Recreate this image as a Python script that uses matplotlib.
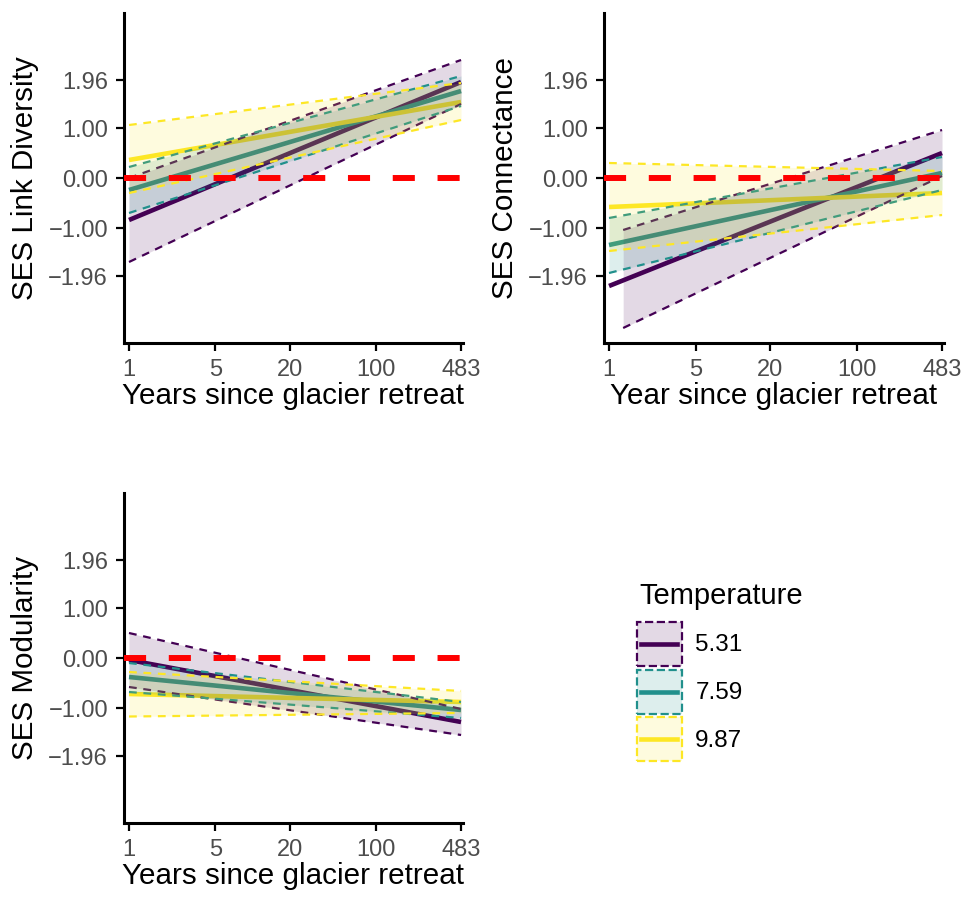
import matplotlib
matplotlib.use("Agg")
import matplotlib.pyplot as plt
from matplotlib.patches import Rectangle
from matplotlib.lines import Line2D
from matplotlib.colors import to_rgba

plt.rcParams['font.family'] = ['Liberation Sans', 'DejaVu Sans']

# data (fitted line + CI ends, at first/last year)
temps = ["5.31", "7.59", "9.87"]
colors = ["#440154", "#21908C", "#FDE725"]
years = [1, 483]
year_ticks = [1, 5, 20, 100, 483]
y_ticks = [-1.96, -1.00, 0.00, 1.00, 1.96]

link_fit = [[-0.84, 1.92], [-0.24, 1.74], [0.36, 1.52]]
link_lo = [[-1.68, 1.48], [-0.70, 1.44], [-0.30, 1.16]]
link_hi = [[0.00, 2.36], [0.22, 2.04], [1.06, 1.90]]
link_band_x = [[1, 483], [1, 483], [1, 483]]

conn_fit = [[-2.16, 0.50], [-1.34, 0.10], [-0.58, -0.30]]
conn_lo = [[-3.00, 0.04], [-1.90, -0.24], [-1.46, -0.74]]
conn_hi = [[-1.04, 0.96], [-0.80, 0.42], [0.30, 0.14]]
conn_band_x = [[1.3, 483], [1, 483], [1, 483]]

mod_fit = [[-0.04, -1.28], [-0.38, -1.04], [-0.72, -0.88]]
mod_lo = [[-0.58, -1.54], [-0.68, -1.20], [-1.17, -1.10]]
mod_hi = [[0.50, -1.02], [-0.10, -0.88], [-0.28, -0.66]]
mod_band_x = [[1, 483], [1, 483], [1, 483]]

W, H = 965, 897
fig = plt.figure(figsize=(W / 100, H / 100), dpi=100)


def fmt(v):
    s = "%.2f" % abs(v)
    return ("\u2212" + s) if v < 0 else s


def panel(rect, fit, lo, hi, band_x, ylab, xlab):
    ax = fig.add_axes(rect)
    ax.set_xscale('log')
    # lines first, ribbons drawn over them (as in the original)
    for i in range(3):
        ax.plot(years, fit[i], color=colors[i], lw=3.3, solid_capstyle='butt', zorder=2)
    for i in range(3):
        ax.fill_between(band_x[i], lo[i], hi[i], color=colors[i], alpha=0.15, lw=0, zorder=3)
        ax.plot(band_x[i], lo[i], color=colors[i], lw=1.6, dashes=(3.5, 3), zorder=3)
        ax.plot(band_x[i], hi[i], color=colors[i], lw=1.6, dashes=(3.5, 3), zorder=3)
    ax.axhline(0, color='#FF0000', lw=4.3, dashes=(3.7, 3.8), zorder=5)

    ax.set_xlim(0.911, 501)
    ax.set_ylim(-3.3, 3.3)
    ax.set_xticks(year_ticks)
    ax.set_xticklabels([str(v) for v in year_ticks])
    ax.xaxis.set_minor_locator(matplotlib.ticker.NullLocator())
    ax.set_yticks(y_ticks)
    ax.set_yticklabels([fmt(v) for v in y_ticks])
    for s in ['top', 'right']:
        ax.spines[s].set_visible(False)
    for s in ['left', 'bottom']:
        ax.spines[s].set_linewidth(2.2)
    ax.tick_params(length=5.5, width=1.6, labelsize=17, labelcolor='#4D4D4D', pad=6)
    ax.set_ylabel(ylab, fontsize=21.3, labelpad=7)
    ax.set_xlabel(xlab, fontsize=21.3, labelpad=1)
    return ax


panel([124 / W, 1 - 343 / H, 339 / W, 330 / H], link_fit, link_lo, link_hi, link_band_x,
      "SES Link Diversity", "Years since glacier retreat")
panel([604 / W, 1 - 343 / H, 340 / W, 330 / H], conn_fit, conn_lo, conn_hi, conn_band_x,
      "SES Connectance", "Year since glacier retreat")
panel([124 / W, 1 - 823 / H, 339 / W, 330 / H], mod_fit, mod_lo, mod_hi, mod_band_x,
      "SES Modularity", "Years since glacier retreat")


class BandKey:
    # legend key: shaded box with dashed border and the fit line across its middle
    def legend_artist(self, legend, orig_handle, fontsize, handlebox):
        c = orig_handle.get_color()
        x0, y0 = -handlebox.xdescent, -handlebox.ydescent
        w, h = handlebox.width, handlebox.height
        tr = handlebox.get_transform()
        box = Rectangle((x0, y0), w, h, facecolor=to_rgba(c, 0.15), edgecolor=c,
                        linestyle='--', linewidth=1.6, transform=tr)
        ln = Line2D([x0 + 0.1 * w, x0 + 0.9 * w], [y0 + h / 2, y0 + h / 2],
                    color=c, lw=3.3, transform=tr)
        handlebox.add_artist(box)
        handlebox.add_artist(ln)
        return box


handles = [Line2D([], [], color=c) for c in colors]
fig.text(639 / W, 1 - 596 / H, "Temperature", fontsize=21, va='center', ha='left')
fig.legend(handles, temps, loc='upper left',
           bbox_to_anchor=(637 / W, 1 - 622 / H), frameon=False, fontsize=17.5,
           handlelength=1.85, handleheight=2.41, labelspacing=0.15,
           handletextpad=0.55, borderpad=0, borderaxespad=0,
           handler_map={Line2D: BandKey()})

fig.savefig("out.png", dpi=100)
